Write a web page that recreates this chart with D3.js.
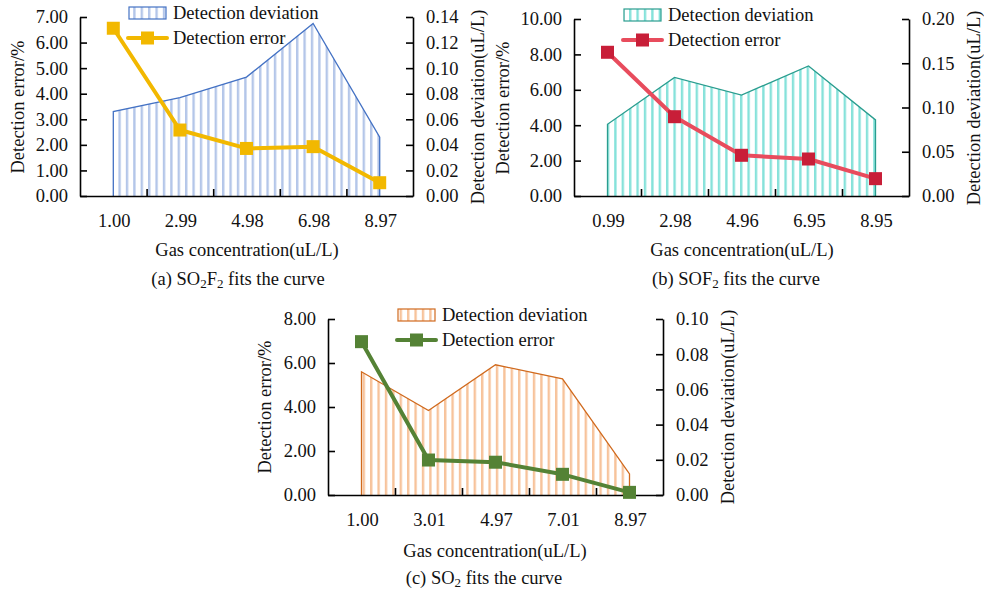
<!DOCTYPE html>
<html>
<head>
<meta charset="utf-8">
<script src="https://cdn.jsdelivr.net/npm/d3@7"></script>
<style>
  body { margin: 0; background: #fff; }
  svg text { font-family: "Liberation Serif", "Times New Roman", serif; fill: #111; }
</style>
</head>
<body>
<svg id="chart" width="984" height="589"></svg>
<script>
// categories (gas concentration, uL/L)
const catsA = ["1.00", "2.99", "4.98", "6.98", "8.97"];
const catsB = ["0.99", "2.98", "4.96", "6.95", "8.95"];
const catsC = ["1.00", "3.01", "4.97", "7.01", "8.97"];

// detection error (%) - left axis
const errA = [6.56, 2.58, 1.86, 1.93, 0.52];
const errB = [8.12, 4.48, 2.30, 2.09, 0.98];
const errC = [6.97, 1.59, 1.49, 0.94, 0.12];

// detection deviation (uL/L) - right axis
const devA = [0.066, 0.077, 0.093, 0.135, 0.046];
const devB = [0.081, 0.134, 0.114, 0.147, 0.086];
const devC = [0.070, 0.048, 0.074, 0.066, 0.012];

// tick values
const leftTicksA  = [0, 1, 2, 3, 4, 5, 6, 7];
const rightTicksA = [0, 0.02, 0.04, 0.06, 0.08, 0.10, 0.12, 0.14];
const leftTicksB  = [0, 2, 4, 6, 8, 10];
const rightTicksB = [0, 0.05, 0.10, 0.15, 0.20];
const leftTicksC  = [0, 2, 4, 6, 8];
const rightTicksC = [0, 0.02, 0.04, 0.06, 0.08, 0.10];

const svg = d3.select("#chart");
const defs = svg.append("defs");
const FS = 18.5;

function hatch(id, color) {
  const p = defs.append("pattern")
    .attr("id", id)
    .attr("patternUnits", "userSpaceOnUse")
    .attr("width", 7.4).attr("height", 10);
  p.append("rect").attr("width", 7.4).attr("height", 10).attr("fill", "#fff");
  p.append("rect").attr("x", 0).attr("width", 2.4).attr("height", 10).attr("fill", color);
}
hatch("hA", "#b4c6e9");
hatch("hB", "#86e2da");
hatch("hC", "#f7c39b");

function drawPanel(o) {
  const g = svg.append("g");
  const x = d3.scaleBand().domain(o.cats).range([o.x0, o.x1]);
  const yL = d3.scaleLinear().domain([0, d3.max(o.leftTicks)]).range([o.yb, o.yt]);
  const yR = d3.scaleLinear().domain([0, d3.max(o.rightTicks)]).range([o.yb, o.yt]);
  const cx = d => x(d) + x.bandwidth() / 2;

  // deviation area
  const area = d3.area()
    .x((d, i) => cx(o.cats[i]))
    .y0(yR(0))
    .y1(d => yR(d));
  const pts = o.dev.map((d, i) => [cx(o.cats[i]), yR(d)]);
  const poly = [[pts[0][0], yR(0)]].concat(pts).concat([[pts[pts.length - 1][0], yR(0)]]);
  g.append("path")
    .attr("d", area(o.dev))
    .attr("fill", "url(#" + o.pat + ")");
  g.append("path")
    .attr("d", d3.line()(poly))
    .attr("fill", "none")
    .attr("stroke", o.areaStroke)
    .attr("stroke-width", 1.3);

  // axes, ticks point inward
  const leftAxis = d3.axisRight(yL).tickValues(o.leftTicks).tickSize(7).tickSizeOuter(0).tickFormat("");
  const rightAxis = d3.axisLeft(yR).tickValues(o.rightTicks).tickSize(7).tickSizeOuter(0).tickFormat("");
  g.append("g").attr("transform", `translate(${o.x0},0)`).call(leftAxis);
  g.append("g").attr("transform", `translate(${o.x1},0)`).call(rightAxis);
  const bounds = o.cats.slice(1).map(c => x(c));
  const xAxis = d3.axisTop(d3.scaleLinear().domain([o.x0, o.x1]).range([o.x0, o.x1]))
    .tickValues(bounds).tickSize(7).tickSizeOuter(0).tickFormat("");
  g.append("g").attr("transform", `translate(0,${o.yb})`).call(xAxis);
  g.selectAll(".domain").attr("stroke", "#000").attr("stroke-width", 1.6);
  g.selectAll(".tick line").attr("stroke", "#000").attr("stroke-width", 1.6);

  // tick labels
  g.selectAll(".lt").data(o.leftTicks).enter().append("text")
    .attr("x", o.x0 - 12).attr("y", d => yL(d)).attr("dy", "0.35em")
    .attr("text-anchor", "end").attr("font-size", FS)
    .text(d => d.toFixed(2));
  g.selectAll(".rt").data(o.rightTicks).enter().append("text")
    .attr("x", o.x1 + 13).attr("y", d => yR(d)).attr("dy", "0.35em")
    .attr("text-anchor", "start").attr("font-size", FS)
    .text(d => d.toFixed(2));
  g.selectAll(".xt").data(o.cats).enter().append("text")
    .attr("x", d => cx(d) + 1).attr("y", o.yb + 25).attr("dy", "0.35em")
    .attr("text-anchor", "middle").attr("font-size", FS)
    .text(d => d);

  // error line + markers
  g.append("path")
    .attr("d", d3.line().x((d, i) => cx(o.cats[i])).y(d => yL(d))(o.err))
    .attr("fill", "none").attr("stroke", o.lineColor)
    .attr("stroke-width", 4).attr("stroke-linejoin", "round");
  g.selectAll(".mk").data(o.err).enter().append("rect")
    .attr("x", (d, i) => cx(o.cats[i]) - 6.5).attr("y", d => yL(d) - 6.5)
    .attr("width", 13).attr("height", 13).attr("fill", o.markColor);

  // axis titles
  g.append("text")
    .attr("transform", `translate(${o.lt[0]},${o.lt[1]}) rotate(-90)`)
    .attr("dy", "0.35em").attr("text-anchor", "middle").attr("font-size", FS)
    .text("Detection error/%");
  g.append("text")
    .attr("transform", `translate(${o.rtt[0]},${o.rtt[1]}) rotate(-90)`)
    .attr("dy", "0.35em").attr("text-anchor", "middle").attr("font-size", FS)
    .text("Detection deviation(uL/L)");
  g.append("text")
    .attr("x", o.xt[0]).attr("y", o.xt[1]).attr("dy", "0.35em")
    .attr("text-anchor", "middle").attr("font-size", FS)
    .text("Gas concentration(uL/L)");

  // caption with subscripts
  const cap = g.append("text")
    .attr("x", o.cap[0]).attr("y", o.cap[1]).attr("dy", "0.35em")
    .attr("text-anchor", "middle").attr("font-size", FS);
  o.caption.forEach(part => {
    const t = cap.append("tspan").text(part[0]);
    if (part[1]) t.attr("font-size", 13).attr("dy", 3);
    else if (part[2]) t.attr("dy", -3);
  });

  // legend
  const [lx, ly] = o.leg;
  g.append("rect").attr("x", lx).attr("y", ly).attr("width", 37).attr("height", 12)
    .attr("fill", "url(#" + o.pat + ")").attr("stroke", o.areaStroke).attr("stroke-width", 1.2);
  g.append("text").attr("x", lx + 44).attr("y", ly + 6).attr("dy", "0.35em")
    .attr("font-size", FS).text("Detection deviation");
  g.append("line").attr("x1", lx - 1).attr("x2", lx + 38)
    .attr("y1", ly + 31).attr("y2", ly + 31)
    .attr("stroke", o.lineColor).attr("stroke-width", 4).attr("stroke-linecap", "round");
  g.append("rect").attr("x", lx + 12).attr("y", ly + 24.5).attr("width", 13).attr("height", 13)
    .attr("fill", o.markColor);
  g.append("text").attr("x", lx + 44).attr("y", ly + 31).attr("dy", "0.35em")
    .attr("font-size", FS).text("Detection error");
}

drawPanel({
  cats: catsA, err: errA, dev: devA, leftTicks: leftTicksA, rightTicks: rightTicksA,
  x0: 80, x1: 413, yt: 17, yb: 196, pat: "hA",
  areaStroke: "#4472c4", lineColor: "#f2b800", markColor: "#f2b800",
  lt: [18, 107], rtt: [478, 107], xt: [247, 250], cap: [238, 279],
  caption: [["(a) SO"], ["2", true], ["F", false, true], ["2", true], [" fits the curve", false, true]],
  leg: [129, 7]
});

drawPanel({
  cats: catsB, err: errB, dev: devB, leftTicks: leftTicksB, rightTicks: rightTicksB,
  x0: 574, x1: 909, yt: 19, yb: 196, pat: "hB",
  areaStroke: "#2a9d8f", lineColor: "#e84c5d", markColor: "#c81e38",
  lt: [503, 108], rtt: [974, 108], xt: [742, 250], cap: [736, 279],
  caption: [["(b) SOF"], ["2", true], [" fits the curve", false, true]],
  leg: [624, 9]
});

drawPanel({
  cats: catsC, err: errC, dev: devC, leftTicks: leftTicksC, rightTicks: rightTicksC,
  x0: 328, x1: 663, yt: 319, yb: 495, pat: "hC",
  areaStroke: "#d06a1e", lineColor: "#548235", markColor: "#548235",
  lt: [265, 407], rtt: [728, 407], xt: [495, 551], cap: [484, 578],
  caption: [["(c) SO"], ["2", true], [" fits the curve", false, true]],
  leg: [398, 309]
});
</script>
</body>
</html>
